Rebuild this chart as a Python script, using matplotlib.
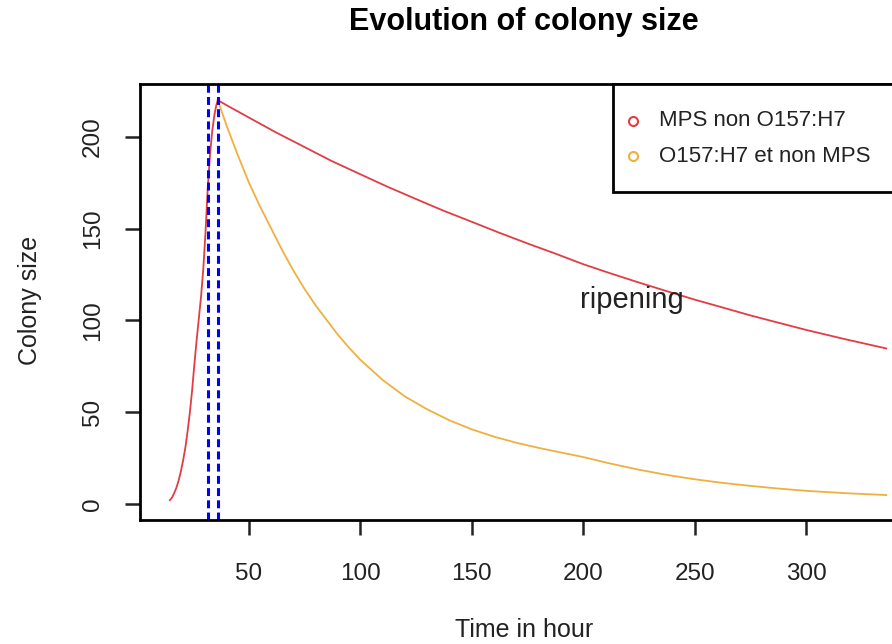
import matplotlib
matplotlib.use("Agg")
import matplotlib.pyplot as plt
from matplotlib.lines import Line2D
from matplotlib.patches import Rectangle

plt.rcParams['font.family'] = ['Liberation Sans', 'DejaVu Sans']

# growth phase then decline of the MPS strain (hours, colony size)
mps_time = [14.5, 15.5, 16.5, 17.5, 18.5, 19.5, 20.5, 21.5, 22.5, 23.5, 24.5, 25.5, 26.5,
            27.5, 28.5, 29.5, 30.5, 31.5, 32.5, 33.5, 34.5, 35.3, 36,
            40, 50, 62, 75, 87, 100, 112, 125, 137, 150, 162, 175, 187, 200, 212, 225,
            237, 250, 262, 275, 287, 300, 318, 336]
mps_size = [2, 3.5, 6, 9, 13, 18, 24, 31, 40, 50, 62, 76, 89,
            101, 113, 128, 148, 172, 190, 203, 212, 217, 220,
            217.2, 210.5, 202.5, 194.4, 186.9, 179.6, 172.9, 166.1, 159.9, 153.7, 147.9, 141.9,
            136.6, 130.6, 125.7, 120.6, 116.1, 111.3, 107.2, 102.7, 98.9, 94.8, 89.6, 84.7]

# decline of the O157:H7 strain after the peak
o157_time = [36, 40, 45, 50, 55, 60, 65, 70, 75, 80, 85, 90, 95, 100, 110, 120, 130, 140,
             150, 160, 170, 180, 190, 200, 212, 225, 237, 250, 262, 275, 287, 300, 318, 336]
o157_size = [220, 206, 190, 175, 162, 150, 138, 127, 117, 108, 100, 92, 85, 78.5, 67.5, 58.5,
             51.5, 45.5, 40.6, 36.6, 33.3, 30.5, 28, 25.5, 22, 18.6, 15.9, 13.4, 11.5, 9.8,
             8.4, 7.1, 5.8, 4.8]

phase_limits = [31.7, 36]
legend_labels = ["MPS non O157:H7", "O157:H7 et non MPS"]
red = '#e23c44'
orange = '#efb040'
ink = '#222222'

fig = plt.figure(figsize=(8.92, 6.44), dpi=100)
ax = fig.add_axes([140/892, 1 - 520/644, 775/892, 436/644])

ax.plot(mps_time, mps_size, color=red, lw=1.3)
ax.plot(o157_time, o157_size, color=orange, lw=1.3)
for x in phase_limits:
    ax.axvline(x, color='#0000ff', lw=2.2, ls=(0, (2.6, 1.4)))

ax.text(222, 111, "ripening", fontsize=21, ha='center', va='center', color=ink)

ax.set_xlim(1.1, 348.9)
ax.set_ylim(-8.8, 228.8)
ax.set_xticks([50, 100, 150, 200, 250, 300])
ax.set_yticks([0, 50, 100, 150, 200])
ax.tick_params(labelsize=17.5, length=11, width=1.8, colors=ink)
ax.tick_params(axis='x', pad=20)
ax.tick_params(axis='y', pad=15)
for lab in ax.get_yticklabels():
    lab.set_rotation(90)
    lab.set_va('center')
for s in ax.spines.values():
    s.set_linewidth(2)

fig.text(524/892, 1 - 630/644, "Time in hour", fontsize=18, color=ink, ha='center', va='center')
fig.text(30/892, 1 - 300/644, "Colony size", fontsize=18, color=ink, ha='center', va='center',
         rotation=90)
fig.text(524/892, 1 - 22/644, "Evolution of colony size", fontsize=22, fontweight='bold',
         ha='center', va='center')

# legend box, top right, running past the right edge like the original
fig.add_artist(Rectangle((613/892, 1 - 192/644), 0.4, 108/644, transform=fig.transFigure,
                         facecolor='white', edgecolor='black', lw=2, zorder=5))
for i, (lab, col) in enumerate(zip(legend_labels, [red, orange])):
    yy = 1 - (121 + 35 * i)/644
    fig.add_artist(Line2D([633/892], [yy], transform=fig.transFigure, ls='none', marker='o',
                          mfc='none', mec=col, mew=1.5, ms=6.5, zorder=6))
    fig.text(659/892, yy, lab, fontsize=16, color=ink, ha='left', va='center', zorder=6)

fig.savefig("out.png", dpi=100)
